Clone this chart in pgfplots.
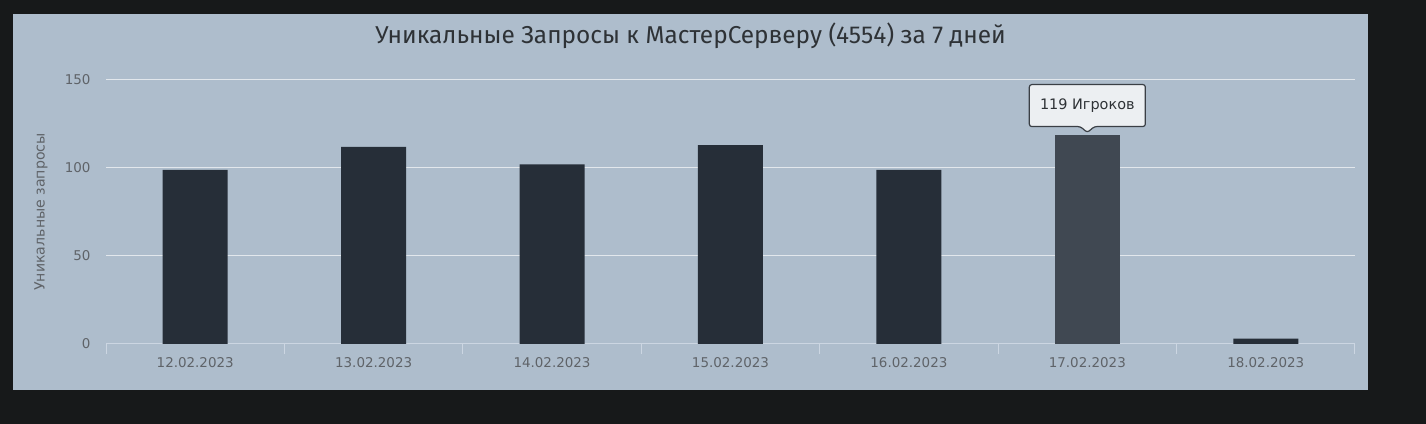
\documentclass[border=0pt]{standalone}
\usepackage{fontspec}
\setmainfont{DejaVu Sans}
\newfontfamily\titlefont{Fira Sans}
\usepackage{pgfplots}
\pgfplotsset{compat=1.18}

\definecolor{outerbg}{HTML}{17191A}
\definecolor{panel}{HTML}{AEBDCC}
\definecolor{barcol}{HTML}{262E38}
\definecolor{hovercol}{HTML}{404852}
\definecolor{gridcol}{HTML}{E2E7EC}
\definecolor{axiscol}{HTML}{CCD6E2}
\definecolor{labelcol}{HTML}{5F6368}
\definecolor{titlecol}{HTML}{2E3236}
\definecolor{ttfill}{HTML}{ECEFF2}
\definecolor{ttborder}{HTML}{3A3F45}

\begin{document}
\begin{tikzpicture}
\useasboundingbox (0,0) rectangle (1426bp,424bp);
\fill[outerbg] (0,0) rectangle (1426bp,424bp);
\fill[panel] (13bp,34bp) rectangle (1368bp,410bp);

% title and y label
\node[anchor=base, inner sep=0pt, text=titlecol,
      font=\titlefont\fontsize{24.5}{29}\selectfont] at (690.5bp,380.5bp)
  {Уникальные Запросы к МастерСерверу (4554) за 7 дней};
\node[rotate=90, inner sep=0pt, text=labelcol,
      font=\fontsize{14.2}{16}\selectfont] at (41bp,212bp) {Уникальные запросы};

\begin{axis}[
    at={(106bp,80bp)}, anchor=south west,
    scale only axis,
    width=1249bp, height=264bp,
    xmin=-0.5, xmax=6.5,
    ymin=0, ymax=150,
    ybar, bar width=65bp, bar shift=0pt,
    axis x line*=bottom, axis y line*=left,
    y axis line style={draw=none},
    x axis line style={draw=axiscol, line width=1bp, -},
    xtick={0,...,6},
    xticklabels={12.02.2023,13.02.2023,14.02.2023,15.02.2023,16.02.2023,17.02.2023,18.02.2023},
    minor xtick={-0.5,0.5,...,6.5},
    ytick={0,50,100,150},
    major tick length=0pt, minor tick length=10bp, tick align=outside,
    major tick style={draw=none},
    minor tick style={draw=axiscol, line width=1bp},
    ymajorgrids,
    grid style={draw=gridcol, line width=1bp},
    /pgf/number format/assume math mode=true,
    xticklabel style={text=labelcol, font=\fontsize{13.5}{16}\selectfont, yshift=-10bp},
    yticklabel style={text=labelcol, font=\fontsize{13.5}{16}\selectfont, xshift=-12bp},
    clip=false,
]
\addplot[fill=barcol, draw=none] coordinates {
    (0,99) (1,112) (2,102) (3,113) (4,99) (6,3)};
\addplot[fill=hovercol, draw=none] coordinates {(5,119)};
\coordinate (tip) at (axis cs:5,119);
\end{axis}

% tooltip
\fill[black, opacity=0.3, rounded corners=2.5bp, xshift=1.5bp, yshift=-1.5bp]
  (tip) ++(0,2bp) -- ++(7bp,6bp) -- ++(51bp,0) -- ++(0,42bp) -- ++(-116bp,0)
  -- ++(0,-42bp) -- ++(51bp,0) -- cycle;
\filldraw[fill=ttfill, draw=ttborder, line width=1.2bp, rounded corners=2.5bp]
  (tip) ++(0,2bp) -- ++(7bp,6bp) -- ++(51bp,0) -- ++(0,42bp) -- ++(-116bp,0)
  -- ++(0,-42bp) -- ++(51bp,0) -- cycle;
\node[text=titlecol, font=\fontsize{14.5}{17}\selectfont] at ([yshift=29bp]tip) {119 Игроков};
\end{tikzpicture}
\end{document}
